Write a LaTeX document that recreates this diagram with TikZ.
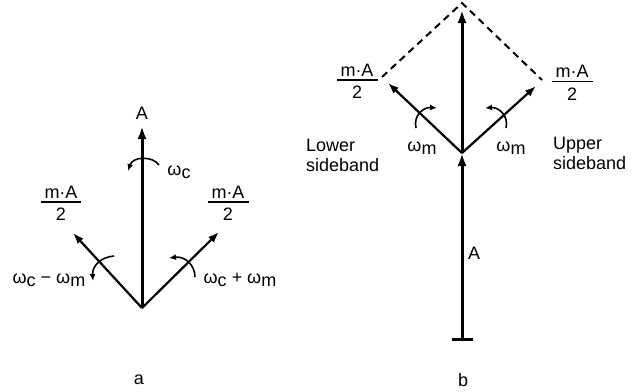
\documentclass[tikz,border=0pt]{standalone}
\usepackage{fontspec}
\setmainfont{Liberation Sans}
\usetikzlibrary{arrows.meta}
\newcommand\wsub[1]{ω\raisebox{-3.5bp}{#1}}
\newcommand\mfrac{{\setlength{\arrayrulewidth}{1.2bp}\begin{tabular}{@{\hspace{4bp}}c@{\hspace{4bp}}}m·A\\[-3bp]\hline\rule{0pt}{18bp}2\end{tabular}}}
\begin{document}
\begin{tikzpicture}[x=1bp,y=-1bp,
  txt/.style={font=\fontsize{18bp}{20bp}\selectfont, inner sep=0pt},
  mainarr/.style={line width=3bp,-{Latex[length=13bp,width=9bp]}},
  sidearr/.style={line width=2.2bp,-{Latex[length=11bp,width=8bp]}},
  rotarr/.style={line width=1.6bp,-{Latex[length=7bp,width=6bp]}},
  dashln/.style={line width=2bp,dash pattern=on 7bp off 5bp}]
\useasboundingbox (0,0) rectangle (636,391);
% ---------- diagram a ----------
\coordinate (Oa) at (142,308);
\coordinate (Atip) at (142,126);
\coordinate (Ltip) at (73,233);
\coordinate (Rtip) at (219,232);
\draw[mainarr] (Oa) -- (Atip);
\draw[sidearr] (Oa) -- (Ltip);
\draw[sidearr] (Oa) -- (Rtip);
\node[txt] (lA) at (142,113) {A};
\coordinate (c1s) at (159,165);
\coordinate (c1e) at (128,171);
\draw[rotarr] (c1s) .. controls (153,156) and (133,156) .. (c1e);
\node[txt] (lwc) at (179,172) {\wsub{c}};
\coordinate (c2s) at (114,256);
\coordinate (c2e) at (93,281);
\draw[rotarr] (c2s) .. controls (101,257) and (92,266) .. (c2e);
\coordinate (c3s) at (195,277);
\coordinate (c3e) at (169,258);
\draw[rotarr] (c3s) .. controls (195,265) and (185,256) .. (c3e);
\node[txt] (lminus) at (49,280) {\wsub{c} − \wsub{m}};
\node[txt] (lplus) at (240,280) {\wsub{c} + \wsub{m}};
\node[txt] (fl) at (61,205.5) {\mfrac};
\node[txt] (fr) at (228,205.5) {\mfrac};
\node[txt] (la) at (139,380) {a};
% ---------- diagram b ----------
\coordinate (J) at (462,153);
\coordinate (Bot) at (462,341);
\coordinate (Ttip) at (462,10);
\coordinate (Apex) at (462,3);
\coordinate (Lc) at (382,77);
\coordinate (Rc) at (542,80);
\coordinate (Lt) at (388,83);
\coordinate (Rt) at (536,86);
\draw[line width=3bp,{Bar[width=21bp,line width=3bp]}-{Latex[length=13bp,width=9bp]}] (Bot) -- (J);
\draw[mainarr] (J) -- (Ttip);
\draw[sidearr] (J) -- (Lt);
\draw[sidearr] (J) -- (Rt);
\draw[dashln] (Lc) -- (Apex) -- (Rc);
\coordinate (c4s) at (416,128);
\coordinate (c4e) at (437,108);
\draw[rotarr] (c4s) .. controls (413,115) and (424,107) .. (c4e);
\coordinate (c5s) at (506,128);
\coordinate (c5e) at (485,108);
\draw[rotarr] (c5s) .. controls (509,115) and (498,107) .. (c5e);
\node[txt] (lwm1) at (422,148) {\wsub{m}};
\node[txt] (lwm2) at (511,148) {\wsub{m}};
\node[txt,align=left,anchor=west] (low) at (306,155) {Lower\\sideband};
\node[txt,align=left,anchor=west] (upp) at (553,153) {Upper\\sideband};
\node[txt] (fbl) at (357,83.5) {\mfrac};
\node[txt] (fbr) at (572,85) {\mfrac};
\node[txt] (lAb) at (474,253) {A};
\node[txt] (lb) at (463,380) {b};
\end{tikzpicture}
\end{document}
